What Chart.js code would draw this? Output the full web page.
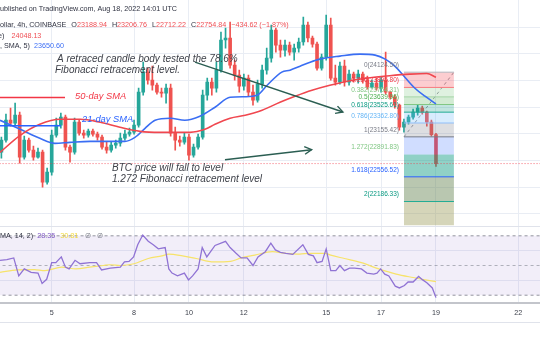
<!DOCTYPE html>
<html>
<head>
<meta charset="utf-8">
<script src="https://cdn.jsdelivr.net/npm/chart.js"></script>
<style>
  html, body { margin: 0; padding: 0; background: #fff; }
  #wrap { width: 540px; height: 340px; }
</style>
</head>
<body>
<div id="wrap"><canvas id="grafico" width="540" height="340"></canvas></div>
<script>
// BTC/USD 4h (COINBASE) - candles, SMAs, Fibonacci e RSI

const firstDay = 3 + 1 / 6;          // primeiro candle visivel (dia 3, 04:00)
const candleDay = i => firstDay + i / 6;

const candleOpen = [22926, 23106, 23406, 23361, 23481, 22851, 23106, 22956, 22851, 22926,
  22476, 22626, 23181, 23331, 23451, 23001, 22926, 23376, 23211, 23181,
  23241, 23196, 23151, 23001, 22956, 23031, 23061, 23136, 23196, 23226,
  23331, 23826, 24126, 24006, 23931, 23826, 23811, 23886, 23211, 23106,
  23076, 23151, 22881, 23001, 23151, 23781, 23976, 23886, 24156, 24606,
  24636, 24231, 24081, 23916, 24036, 23826, 23706, 23946, 24156, 24336,
  24756, 24531, 24456, 24531, 24426, 24486, 24576, 24831, 24636, 24546,
  24186, 24351, 24831, 24036, 23976, 24216, 23976, 24096, 24036, 24096,
  24006, 23901, 23961, 23886, 24006, 23826, 23751, 23631, 23301, 23376,
  23451, 23526, 23586, 23526, 23376, 23188.94];
const candleHigh = [23151, 23496, 23586, 23661, 23526, 23166, 23136, 23016, 22986, 22956,
  22686, 23256, 23436, 23511, 23481, 23031, 23436, 23406, 23256, 23271,
  23271, 23226, 23181, 23076, 23076, 23106, 23211, 23256, 23286, 23406,
  23886, 24276, 24186, 24216, 23961, 23886, 23946, 23946, 23301, 23166,
  23211, 23196, 23046, 23196, 23856, 24036, 24036, 24276, 24726, 24786,
  24876, 24306, 24156, 24096, 24081, 23931, 24006, 24231, 24486, 24831,
  24786, 24606, 24606, 24576, 24546, 24636, 24951, 24876, 24666, 24576,
  24396, 24981, 24936, 24231, 24276, 24306, 24156, 24126, 24156, 24126,
  24066, 24006, 24036, 24051, 24426, 23841, 23781, 23646, 23421, 23481,
  23571, 23631, 23616, 23541, 23406, 23206.76];
const candleLow = [22836, 23076, 23316, 23331, 22761, 22821, 22926, 22806, 22836, 22401,
  22446, 22581, 23151, 23286, 22956, 22776, 22896, 23181, 23136, 23151,
  23166, 23106, 22971, 22911, 22926, 22986, 23016, 23106, 23166, 23196,
  23301, 23781, 23946, 23856, 23796, 23751, 23661, 23166, 22956, 23016,
  23046, 22806, 22851, 22971, 23121, 23706, 23781, 23826, 24126, 24486,
  24186, 24006, 23826, 23856, 23766, 23631, 23676, 23886, 24096, 24276,
  24426, 24351, 24366, 24381, 24306, 24426, 24531, 24576, 24501, 24156,
  24156, 24306, 24006, 23931, 23946, 23916, 23931, 23976, 23961, 23961,
  23871, 23886, 23856, 23826, 23796, 23721, 23586, 23256, 23226, 23346,
  23421, 23481, 23496, 23316, 23166, 22712.22];
const candleClose = [23106, 23406, 23361, 23481, 22851, 23106, 22956, 22851, 22926, 22476,
  22626, 23181, 23331, 23451, 23001, 22926, 23376, 23211, 23181, 23241,
  23196, 23151, 23001, 22956, 23031, 23061, 23136, 23196, 23226, 23331,
  23826, 24126, 24006, 23931, 23826, 23811, 23886, 23211, 23106, 23076,
  23151, 22881, 23001, 23151, 23781, 23976, 23886, 24156, 24606, 24636,
  24231, 24081, 23916, 24036, 23826, 23706, 23946, 24156, 24336, 24756,
  24531, 24456, 24531, 24426, 24486, 24576, 24831, 24636, 24546, 24186,
  24351, 24831, 24036, 23976, 24216, 23976, 24096, 24036, 24096, 24006,
  23901, 23961, 23886, 24006, 23826, 23751, 23631, 23301, 23376, 23451,
  23526, 23586, 23526, 23376, 23189, 22754.84];

// medias moveis (posicao em candles)
const sma50Idx = [-0.3, 4.1, 8.4, 12.8, 17.2, 21.6, 25.9, 30.3, 34.7, 41.2, 44.5, 46.7, 50.0,
  53.3, 57.0, 60.9, 64.2, 67.9, 71.8, 76.2, 80.6, 84.9, 89.3, 93.0, 95.0];
const sma50 = [22923, 23178, 23344, 23419, 23419, 23374, 23299, 23238, 23223, 23223, 23268, 23344, 23434,
  23479, 23554, 23674, 23764, 23854, 23929, 23997, 24042, 24072, 24095, 24105, 24048.13];
const sma21Idx = [-0.3, 4.1, 8.4, 11.7, 15.0, 19.4, 23.7, 27.0, 29.2, 31.4, 33.6, 36.9, 40.1, 43.4,
  46.7, 50.0, 53.3, 55.9, 58.1, 61.3, 63.1, 65.3, 67.5, 69.6, 74.0, 78.4, 81.7, 83.9, 86.0, 88.2,
  90.4, 92.6, 95.0];
const sma21 = [23404, 23268, 23133, 23058, 23073, 23088, 23088, 23088, 23148, 23283, 23404, 23434, 23404, 23464,
  23599, 23749, 23757, 23779, 23929, 24125, 24155, 24215, 24275, 24320, 24365, 24395, 24380, 24320, 24215, 24049,
  23884, 23764, 23650.60];

// RSI e sua media
const rsiIdx = [-0.3, 1.2, 2.7, 3.8, 5.0, 6.5, 8.0, 8.9, 9.9, 11.0, 11.9, 13.1, 14.0, 14.8, 16.1, 17.2,
  19.3, 20.8, 21.9, 23.8, 26.0, 26.9, 27.9, 28.9, 29.8, 30.9, 32.1, 33.2, 34.3, 35.8, 36.6, 37.3, 38.5,
  40.0, 40.9, 41.8, 43.0, 43.9, 44.9, 46.7, 49.0, 50.0, 51.3, 52.4, 53.7, 55.0, 56.1, 57.7, 58.9, 59.9,
  61.0, 62.2, 63.7, 65.9, 67.1, 68.2, 69.0, 70.1, 71.0, 72.0, 73.1, 74.0, 75.0, 76.1, 77.2, 78.7, 79.9,
  81.4, 82.1, 82.9, 83.8, 84.7, 86.1, 87.0, 88.1, 88.9, 90.0, 91.2, 92.1, 93.0, 94.2, 95.0];
const rsiValues = [53.5, 54.0, 55.1, 43.0, 47.7, 45.4, 44.9, 37.9, 40.7, 51.9, 51.9, 55.8, 48.9, 47.7, 53.5, 51.2,
  51.9, 51.9, 47.0, 48.2, 48.9, 52.4, 52.8, 55.8, 64.0, 70.5, 66.3, 64.0, 61.2, 62.1, 47.7, 44.9, 43.0,
  44.9, 40.3, 43.0, 47.7, 62.1, 55.8, 63.5, 66.3, 62.1, 58.2, 55.1, 55.1, 50.0, 55.8, 59.3, 65.1, 60.5,
  58.9, 58.2, 57.5, 64.0, 57.5, 56.5, 51.9, 52.8, 61.2, 46.5, 46.5, 50.0, 46.5, 48.2, 48.2, 47.7, 44.9,
  44.2, 44.9, 47.7, 44.2, 43.0, 36.1, 34.9, 36.5, 38.9, 38.9, 42.6, 40.3, 38.4, 34.9, 28.35];
const rsiMaIdx = [-0.3, 3.5, 7.2, 9.5, 13.2, 16.3, 19.3, 22.3, 23.8, 26.0, 29.0, 32.1, 35.1, 36.6, 39.6, 42.6,
  46.4, 50.1, 52.4, 55.4, 59.2, 62.2, 65.2, 67.4, 70.8, 72.0, 75.0, 78.7, 82.5, 86.3, 90.0, 95.0];
const rsiMa = [45.4, 47.0, 47.2, 46.5, 48.9, 47.7, 48.9, 50.0, 50.5, 50.0, 51.2, 54.7, 56.5, 57.7, 56.5, 54.7,
  52.4, 52.8, 55.1, 57.0, 59.3, 58.2, 57.7, 58.2, 58.2, 57.0, 54.7, 51.9, 47.7, 44.2, 41.9, 39.1];
const rsiLevels = [70, 50, 30];

// Fibonacci
const fibRatios = ['0', '0.236', '0.382', '0.5', '0.618', '0.786', '1', '1.272', '1.618', '2', '2.618'];
const fibPrices = [24124.50, 23895.80, 23754.31, 23639.96, 23525.61, 23362.80, 23155.42, 22891.83, 22556.52, 22186.33, 21587.45];
const fibStartDay = 17.833;
const fibEndDay = 19.655;

// eixo do tempo
const dayTicks = [5, 8, 10, 12, 15, 17, 19, 22];
const priceGrid = [22000, 22400, 22800, 23200, 23600, 24000, 24400, 24800];
const rsiGrid = [40, 60];
const lastPrice = 22754.84;

// escalas (visiveis no recorte)
const xMin = 3.116, xMax = 22.79;
const priceMin = 21826, priceMax = 25206;
const rsiMin = 24.5, rsiMax = 76.9;

// desenhos do autor
const notes = [
  { text: 'A retraced candle body tested the 78.6%', day: 5.193, price: 24320 },
  { text: 'Fibonacci retracement level.', day: 5.12, price: 24150 },
  { text: 'BTC price will fall to level', day: 7.196, price: 22683 },
  { text: '1.272 Fibonacci retracement level', day: 7.196, price: 22515 }
];
const smaNotes = [
  { text: '50-day SMA', day: 5.848, price: 23764, color: '#f23645', lineEnd: 5.484, linePrice: 23745 },
  { text: '21-day SMA', day: 6.103, price: 23419, color: '#2962ff', lineEnd: 5.338, linePrice: 23321 }
];
const arrows = [
  { from: [10.22, 24275], to: [15.61, 23528] },
  { from: [11.313, 22813], to: [14.47, 22963] }
];

const FONT = "'Liberation Sans', Arial, sans-serif";
const GREEN = '#26a69a', RED = '#ef5350';

const zoneColors = [null, 'rgba(242,54,69,0.25)', 'rgba(129,199,132,0.25)', 'rgba(76,175,80,0.25)',
  'rgba(8,153,129,0.25)', 'rgba(100,181,246,0.25)', 'rgba(120,123,134,0.25)', 'rgba(41,98,255,0.22)',
  'rgba(8,153,129,0.45)', 'rgba(100,130,80,0.45)', 'rgba(150,150,80,0.4)'];
const fibLineColors = ['#b2b5be', '#f77c80', '#a5d6a7', '#81c784', '#22ab94', '#90bff9', '#787b86',
  'rgba(0,0,0,0)', '#2962ff', '#22ab94', 'rgba(0,0,0,0)'];
const fibTextColors = ['#787b86', '#f23645', '#81c784', '#4caf50', '#089981', '#64b5f6', '#787b86',
  '#81c784', '#2962ff', '#089981', '#f23645'];

const pts = (idx, vals) => idx.map((v, k) => ({ x: candleDay(v), y: vals[k] }));
const flat = (x0, x1, v) => [{ x: x0, y: v }, { x: x1, y: v }];

const candleColors = candleOpen.map((o, i) => candleClose[i] >= o ? GREEN : RED);

const datasets = [];

datasets.push({
  type: 'bar', label: 'pavio', order: 7, yAxisID: 'y',
  data: candleOpen.map((o, i) => ({ x: candleDay(i), y: [candleLow[i], candleHigh[i]] })),
  backgroundColor: candleColors, barThickness: 1, grouped: false, borderWidth: 0
});
datasets.push({
  type: 'bar', label: 'corpo', order: 6, yAxisID: 'y',
  data: candleOpen.map((o, i) => ({ x: candleDay(i), y: [o, candleClose[i]] })),
  backgroundColor: candleColors, barThickness: 3, grouped: false, borderWidth: 0, minBarLength: 1
});

// niveis de Fibonacci (o ultimo corta no fim do painel)
fibPrices.forEach((p, k) => {
  datasets.push({
    type: 'line', label: 'fib ' + fibRatios[k], order: 5, yAxisID: 'y',
    data: flat(fibStartDay, fibEndDay, Math.max(p, priceMin)),
    borderColor: fibLineColors[k], borderWidth: 1, pointRadius: 0,
    fill: k === 0 ? false : '-1', backgroundColor: zoneColors[k] || 'transparent'
  });
});
datasets.push({
  type: 'line', label: 'fib trend', order: 5, yAxisID: 'y',
  data: [{ x: fibStartDay, y: fibPrices[6] }, { x: fibEndDay, y: fibPrices[0] }],
  borderColor: '#9598a1', borderWidth: 1, borderDash: [3, 3], pointRadius: 0, fill: false
});

datasets.push({
  type: 'line', label: 'SMA 50', order: 4, yAxisID: 'y', data: pts(sma50Idx, sma50),
  borderColor: '#f0474f', borderWidth: 1.6, pointRadius: 0, cubicInterpolationMode: 'monotone', fill: false
});
datasets.push({
  type: 'line', label: 'SMA 21', order: 4, yAxisID: 'y', data: pts(sma21Idx, sma21),
  borderColor: '#3a6ef3', borderWidth: 1.6, pointRadius: 0, cubicInterpolationMode: 'monotone', fill: false
});

smaNotes.forEach(n => {
  datasets.push({
    type: 'line', label: n.text, order: 3, yAxisID: 'y', data: flat(3.0, n.lineEnd, n.linePrice),
    borderColor: n.color, borderWidth: 1.5, pointRadius: 0, fill: false
  });
});
arrows.forEach((a, k) => {
  datasets.push({
    type: 'line', label: 'seta ' + k, order: 3, yAxisID: 'y',
    data: [{ x: a.from[0], y: a.from[1] }, { x: a.to[0], y: a.to[1] }],
    borderColor: '#2b5e52', borderWidth: 1.4, pointRadius: 0, fill: false
  });
});
datasets.push({
  type: 'line', label: 'ultimo preco', order: 2, yAxisID: 'y', data: flat(xMin - 1, xMax + 1, lastPrice),
  borderColor: 'rgba(242,54,69,0.75)', borderWidth: 1, borderDash: [1, 2], pointRadius: 0, fill: false
});

// painel do RSI
datasets.push({
  type: 'line', label: 'banda topo', order: 9, yAxisID: 'rsi', data: flat(xMin - 1, xMax + 1, rsiLevels[0]),
  borderWidth: 0, pointRadius: 0, fill: false
});
datasets.push({
  type: 'line', label: 'banda base', order: 9, yAxisID: 'rsi', data: flat(xMin - 1, xMax + 1, rsiLevels[2]),
  borderWidth: 0, pointRadius: 0, fill: '-1', backgroundColor: 'rgba(126,87,194,0.1)'
});
rsiLevels.forEach(v => {
  datasets.push({
    type: 'line', label: 'nivel ' + v, order: 8, yAxisID: 'rsi', data: flat(xMin - 1, xMax + 1, v),
    borderColor: v === 50 ? 'rgba(120,123,134,0.55)' : 'rgba(120,123,134,0.8)', borderWidth: 1,
    borderDash: [3, 3], pointRadius: 0, fill: false
  });
});
datasets.push({
  type: 'line', label: 'RSI MA', order: 2, yAxisID: 'rsi', data: pts(rsiMaIdx, rsiMa),
  borderColor: '#f7e36a', borderWidth: 1.2, pointRadius: 0, cubicInterpolationMode: 'monotone', fill: false
});
datasets.push({
  type: 'line', label: 'RSI', order: 1, yAxisID: 'rsi', data: pts(rsiIdx, rsiValues),
  borderColor: '#9073d4', borderWidth: 1.3, pointRadius: 0, tension: 0, fill: false
});

function linha(ctx, segs, x0, y0, font) {
  ctx.font = font;
  ctx.textAlign = 'left';
  ctx.textBaseline = 'middle';
  let cx = x0;
  segs.forEach(([str, cor, gap]) => {
    ctx.fillStyle = cor;
    ctx.fillText(str, cx, y0);
    cx += ctx.measureText(str).width + (gap || 0);
  });
}

function cortado(ctx, prefix, font) {
  ctx.font = font;
  return -ctx.measureText(prefix).width;
}

const anotacoes = {
  id: 'anotacoes',
  afterDraw(chart) {
    const { ctx, scales } = chart;
    const x = scales.x, y = scales.y, rsi = scales.rsi;
    const dark = '#2f3241', red = '#ef4f55';
    const small = '7.2px ' + FONT;
    ctx.save();

    // separadores dos paineis
    ctx.strokeStyle = '#e0e3eb';
    ctx.lineWidth = 1;
    ctx.beginPath();
    ctx.moveTo(0, Math.round(rsi.top) + 0.5);
    ctx.lineTo(chart.width, Math.round(rsi.top) + 0.5);
    ctx.moveTo(0, Math.round(x.bottom) + 0.5);
    ctx.lineTo(chart.width, Math.round(x.bottom) + 0.5);
    ctx.stroke();

    // cabecalho
    linha(ctx, [['Published on TradingView.com, Aug 18, 2022 14:01 UTC', dark]], cortado(ctx, 'P', small), 9, small);
    linha(ctx, [['Bitcoin / U.S. Dollar, 4h, COINBASE', dark, 5], ['O', dark], ['23188.94', red, 5], ['H', dark],
      ['23206.76', red, 5], ['L', dark], ['22712.22', red, 5], ['C', dark], ['22754.84', red, 5],
      ['\u2212434.62 (\u22121.87%)', red]], cortado(ctx, 'Bitcoin / U.S. D', small), 25, small);
    linha(ctx, [['MA (50, close)', dark, 7], ['24048.13', red]], cortado(ctx, 'MA (50, close', small) + 2, 36, small);
    linha(ctx, [['MA (21, SMA, 5)', dark, 4], ['23650.60', '#3d6ff5']], cortado(ctx, 'MA (21', small), 46.5, small);

    // legenda do RSI
    linha(ctx, [['RSI (close, SMA, 14, 2)', dark, 4], ['28.35', '#7e57c2', 5], ['30.81', '#f2d93c', 7],
      ['\u2205', '#787b86', 6], ['\u2205', '#787b86']], cortado(ctx, 'RSI (close, S', small), rsi.getPixelForValue(rsiLevels[0]) + 0.5, small);

    // rotulos de Fibonacci
    const fibFont = '6.5px ' + FONT;
    ctx.font = fibFont;
    ctx.textAlign = 'right';
    ctx.textBaseline = 'middle';
    const fx = x.getPixelForValue(fibStartDay) - 5;
    fibPrices.forEach((p, k) => {
      if (p < priceMin) return;
      ctx.fillStyle = fibTextColors[k];
      ctx.fillText(fibRatios[k] + '(' + p.toFixed(2) + ')', fx, y.getPixelForValue(p) - 7);
    });

    // notas do autor
    ctx.textAlign = 'left';
    ctx.font = 'italic 10px ' + FONT;
    ctx.fillStyle = '#3f424a';
    notes.forEach(n => ctx.fillText(n.text, x.getPixelForValue(n.day), y.getPixelForValue(n.price)));
    ctx.font = 'italic 9.3px ' + FONT;
    smaNotes.forEach(n => {
      ctx.fillStyle = n.color;
      ctx.fillText(n.text, x.getPixelForValue(n.day), y.getPixelForValue(n.price));
    });

    // pontas das setas
    ctx.strokeStyle = '#2b5e52';
    ctx.lineWidth = 1.4;
    arrows.forEach(a => {
      const x0 = x.getPixelForValue(a.from[0]), y0 = y.getPixelForValue(a.from[1]);
      const x1 = x.getPixelForValue(a.to[0]), y1 = y.getPixelForValue(a.to[1]);
      const ang = Math.atan2(y1 - y0, x1 - x0);
      ctx.beginPath();
      ctx.moveTo(x1 - 8 * Math.cos(ang - 0.5), y1 - 8 * Math.sin(ang - 0.5));
      ctx.lineTo(x1, y1);
      ctx.lineTo(x1 - 8 * Math.cos(ang + 0.5), y1 - 8 * Math.sin(ang + 0.5));
      ctx.stroke();
    });

    ctx.restore();
  }
};

const gridColor = '#e9edf4';

new Chart(document.getElementById('grafico'), {
  type: 'bar',
  data: { datasets },
  options: {
    responsive: false,
    animation: false,
    events: [],
    layout: { padding: { left: 0, right: 0, top: 0, bottom: 18 } },
    plugins: { legend: { display: false }, tooltip: { enabled: false } },
    scales: {
      x: {
        type: 'linear', min: xMin, max: xMax, offset: false,
        grid: { offset: false, color: gridColor, drawTicks: false },
        border: { display: true, color: '#c3c5cb', width: 2 },
        afterBuildTicks: s => { s.ticks = dayTicks.map(v => ({ value: v })); },
        ticks: { padding: 5, color: '#3b3f4a', font: { family: FONT, size: 7.2 }, maxRotation: 0, autoSkip: false,
          callback: v => String(v) }
      },
      y: {
        type: 'linear', position: 'right', stack: 'paineis', stackWeight: 225,
        min: priceMin, max: priceMax,
        grid: { color: gridColor, drawTicks: false },
        border: { display: false },
        afterBuildTicks: s => { s.ticks = priceGrid.map(v => ({ value: v })); },
        ticks: { display: false }
      },
      rsi: {
        type: 'linear', position: 'right', stack: 'paineis', stackWeight: 77.6,
        min: rsiMin, max: rsiMax,
        grid: { color: gridColor, drawTicks: false },
        border: { display: false },
        afterBuildTicks: s => { s.ticks = rsiGrid.map(v => ({ value: v })); },
        ticks: { display: false }
      }
    }
  },
  plugins: [anotacoes]
});
</script>
</body>
</html>
